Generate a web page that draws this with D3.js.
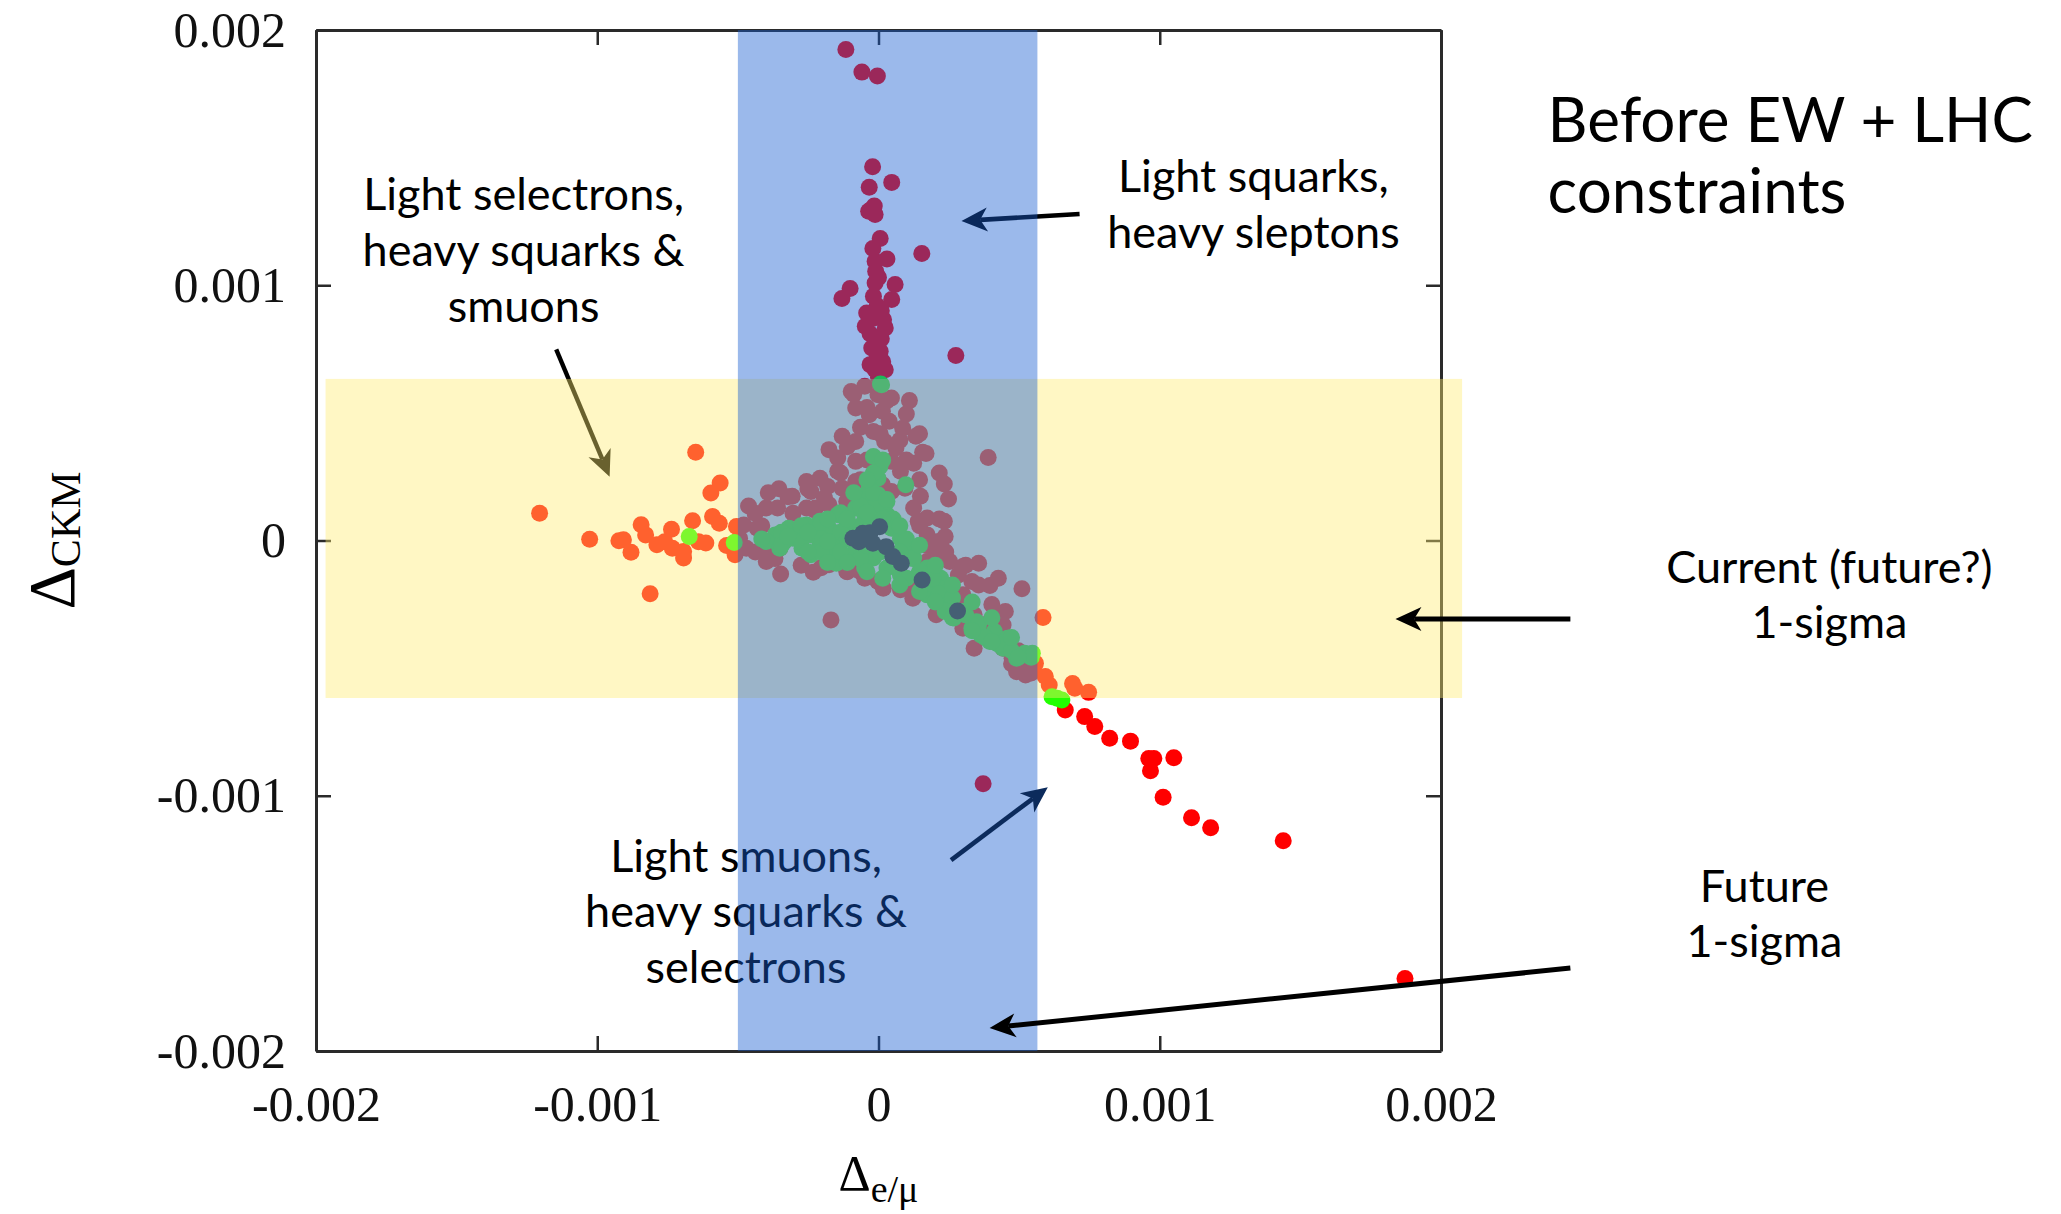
<!DOCTYPE html>
<html>
<head>
<meta charset="utf-8">
<script src="https://cdn.jsdelivr.net/npm/d3@7"></script>
<style>
  html, body { margin: 0; padding: 0; background: #fff; }
  svg { display: block; }
  .note { font-family: Lato, "Open Sans", sans-serif; fill: #000; }
  .axis-title { font-family: "Liberation Serif", "Times New Roman", serif; fill: #000; }
</style>
</head>
<body>
<svg id="chart" width="2061" height="1214"></svg>
<script>
// All scan values below are in units of 1e-3.
const UNIT = 1e-3;

const tickValues = [-2, -1, 0, 1, 2];
const xTickLabels = ["-0.002", "-0.001", "0", "0.001", "0.002"];
const yTickLabels = ["-0.002", "-0.001", "0", "0.001", "0.002"];

// 1-sigma bands
const emuBand = [-0.50, 0.565];          // Δe/μ range (full Δ_CKM height)
const ckmBand = [-0.617, 0.633];         // Δ_CKM range
const ckmBandX = [-1.966, 2.075];        // horizontal extent of the Δ_CKM band

// Scan points: [Δe/μ, Δ_CKM]
const redPoints = [
  // squark-dominated column
  [-0.116, 1.924], [-0.059, 1.835], [-0.004, 1.820],
  [-0.021, 1.464], [0.047, 1.403], [-0.033, 1.384],
  [-0.026, 1.297], [-0.012, 1.277], [-0.035, 1.290], [-0.015, 1.310],
  [0.006, 1.183], [-0.020, 1.144], [0.154, 1.124], [0.030, 1.103], [-0.012, 1.094],
  [-0.010, 1.055], [0.059, 1.003], [-0.101, 0.987], [-0.130, 0.948], [-0.012, 1.009],
  [-0.018, 0.957], [0.047, 0.944], [-0.042, 0.891], [0.018, 0.865], [-0.047, 0.839],
  [0.024, 0.833], [-0.012, 0.793], [-0.024, 0.754], [0.006, 0.741], [0.275, 0.725],
  [-0.030, 0.689], [0.024, 0.669], [-0.012, 0.669], [-0.005, 0.920], [0.010, 0.900],
  [-0.020, 0.870], [0.000, 1.030], [-0.005, 0.715], [0.010, 0.790], [-0.030, 0.810],
  [0.015, 0.700], [0.000, 0.640],
  // central cloud
  [-0.097, 0.584], [-0.049, 0.604], [-0.002, 0.571], [0.046, 0.558], [0.110, 0.548],
  [-0.081, 0.519], [-0.033, 0.493], [0.014, 0.506], [0.038, 0.467], [0.086, 0.440],
  [0.133, 0.408], [-0.129, 0.408], [-0.081, 0.388], [-0.018, 0.427], [0.022, 0.388],
  [0.062, 0.362], [0.157, 0.346], [-0.176, 0.356], [-0.145, 0.323], [-0.081, 0.310],
  [0.046, 0.310], [0.125, 0.303], [0.078, 0.271], [-0.256, 0.231], [-0.208, 0.244],
  [-0.145, 0.271], [-0.129, 0.205], [-0.081, 0.231], [0.014, 0.218], [0.046, 0.192],
  [0.094, 0.205], [0.149, 0.173], [0.234, 0.221], [0.249, 0.163], [-0.354, 0.203],
  [-0.307, 0.173], [-0.240, 0.192], [-0.192, 0.166], [-0.399, 0.127], [-0.439, 0.107],
  [-0.359, 0.127], [-0.304, 0.107], [-0.256, 0.127], [-0.224, 0.127], [-0.176, 0.140],
  [-0.113, 0.153], [0.125, 0.127], [0.141, 0.075], [0.173, 0.088], [0.234, 0.075],
  [0.237, 0.016], [0.173, 0.022], [0.213, -0.004], [-0.479, 0.061], [-0.431, 0.048],
  [-0.494, 0.009], [-0.470, -0.030], [-0.399, -0.056], [-0.399, -0.082], [-0.351, -0.030],
  [-0.348, -0.131], [-0.232, -0.124], [-0.176, -0.095], [-0.145, -0.082], [-0.113, -0.121],
  [-0.065, -0.121], [-0.049, -0.148], [-0.002, -0.161], [0.017, -0.187], [0.078, -0.193],
  [0.122, -0.226], [0.173, -0.082], [0.205, -0.056], [0.253, -0.082], [0.300, -0.102],
  [0.356, -0.089], [0.284, -0.135], [0.332, -0.161], [0.396, -0.176], [0.510, -0.189],
  [0.205, -0.291], [0.237, -0.239], [0.300, -0.213], [0.316, -0.265], [0.340, -0.291],
  [0.348, -0.344], [0.300, -0.344], [0.396, -0.318], [0.451, -0.278], [0.340, -0.422],
  [0.396, -0.370], [0.443, -0.422], [0.475, -0.461], [0.491, -0.514], [0.523, -0.527],
  [0.554, -0.487], [0.443, -0.331],
  [-0.088, 0.573], [-0.041, 0.521], [0.029, 0.547], [0.099, 0.496], [-0.064, 0.444],
  [0.006, 0.418], [0.076, 0.393], [0.146, 0.418], [-0.111, 0.367], [-0.041, 0.315],
  [0.099, 0.315], [0.169, 0.341], [-0.135, 0.264], [-0.064, 0.238], [0.146, 0.238],
  [0.216, 0.264],
  [-0.462, 0.135], [-0.392, 0.187], [-0.322, 0.171], [-0.251, 0.202], [-0.181, 0.212],
  [-0.438, -0.045], [-0.368, -0.071], [-0.275, -0.097], [-0.204, -0.107], [-0.111, -0.122],
  [-0.415, 0.058], [-0.228, 0.120],
  [0.146, 0.058], [0.216, 0.084], [0.169, -0.019], [0.239, -0.045], [0.310, -0.097],
  [0.146, -0.148], [0.216, -0.200], [0.099, -0.174], [0.356, -0.174], [0.286, -0.225],
  [0.403, -0.251], [0.333, -0.303], [0.426, -0.344], [0.450, -0.406], [0.497, -0.432],
  [0.520, -0.483], [0.473, -0.483], [0.543, -0.519], [0.379, -0.354], [0.426, -0.148],
  [0.390, 0.325], [-0.169, -0.311], [0.372, -0.953],
  // selectron branch
  [-1.205, 0.107], [-1.027, 0.005], [-0.650, 0.346], [-0.563, 0.225], [-0.596, 0.186],
  [-0.907, 0.003], [-0.923, -0.001], [-0.880, -0.046], [-0.844, 0.062], [-0.828, 0.022],
  [-0.788, -0.017], [-0.736, 0.044], [-0.733, -0.030], [-0.693, -0.043], [-0.693, -0.069],
  [-0.661, 0.077], [-0.614, -0.010], [-0.590, 0.094], [-0.566, 0.068], [-0.505, 0.055],
  [-0.812, -0.209], [-0.510, -0.056], [-0.760, -0.005], [-0.640, -0.005], [-0.540, -0.020],
  // smuon branch
  [0.585, -0.302], [0.558, -0.481], [0.593, -0.533], [0.607, -0.566], [0.690, -0.560],
  [0.698, -0.579], [0.747, -0.595], [0.664, -0.664], [0.733, -0.690], [0.769, -0.729],
  [0.822, -0.775], [0.896, -0.786], [0.961, -0.854], [0.979, -0.854], [1.050, -0.851],
  [0.967, -0.902], [1.012, -1.006], [1.113, -1.086], [1.181, -1.125], [1.439, -1.176],
  [1.872, -1.716]
];

const greenPoints = [
  [0.007, 0.613], [0.011, 0.610], [-0.018, 0.329], [0.097, 0.218], [-0.002, 0.244],
  [-0.033, 0.205], [-0.002, 0.179], [-0.049, 0.166], [-0.081, 0.127], [-0.145, 0.101],
  [-0.208, 0.075], [-0.256, 0.061], [-0.319, 0.048], [-0.367, 0.022], [-0.399, -0.004],
  [-0.335, -0.004], [-0.272, -0.030], [-0.208, -0.017], [-0.145, 0.009], [-0.081, 0.035],
  [-0.018, 0.075], [0.030, 0.101], [0.046, 0.048], [0.078, 0.009], [0.094, -0.030],
  [0.125, -0.069], [0.173, -0.108], [0.221, -0.148], [0.237, -0.187], [0.253, -0.226],
  [0.300, -0.278], [0.348, -0.318], [0.364, -0.370], [0.412, -0.357], [0.459, -0.383],
  [0.443, -0.422], [0.491, -0.461], [0.547, -0.442], [-0.240, 0.022], [-0.176, 0.048],
  [-0.113, 0.075], [-0.049, 0.101], [0.014, 0.127], [0.030, 0.153], [-0.145, -0.030],
  [-0.081, -0.043], [-0.018, -0.069], [0.030, -0.108], [0.078, -0.135], [0.141, -0.135],
  [0.189, -0.174], [-0.351, -0.030], [-0.304, 0.009], [-0.240, -0.056], [-0.176, -0.056],
  [-0.113, -0.082], [-0.049, -0.108], [0.173, -0.213], [0.237, -0.278], [0.268, -0.304],
  [0.332, -0.344], [0.396, -0.396], [-0.150, -0.089], [-0.100, -0.060], [0.005, 0.290],
  [-0.010, 0.140],
  [-0.415, 0.006], [-0.345, 0.032], [-0.345, -0.019], [-0.275, 0.058], [-0.275, -0.004],
  [-0.204, 0.068], [-0.204, 0.006], [-0.204, -0.045], [-0.135, 0.109], [-0.135, 0.032],
  [-0.135, -0.045], [-0.064, 0.135], [-0.064, 0.058], [-0.064, -0.071], [-0.018, 0.264],
  [-0.018, 0.187], [0.015, 0.315], [0.029, 0.161], [0.052, 0.084], [0.006, -0.045],
  [0.052, -0.097], [0.099, 0.006], [0.122, -0.071], [0.146, -0.122], [0.099, -0.148],
  [0.193, -0.148], [0.216, -0.210], [0.263, -0.225], [0.239, -0.277], [0.310, -0.292],
  [0.356, -0.328], [0.379, -0.380], [0.426, -0.406], [0.473, -0.432], [0.520, -0.442],
  [0.543, -0.457], [-0.088, -0.004], [-0.041, 0.032],
  [-0.322, 0.017], [-0.251, 0.032], [-0.251, -0.045], [-0.181, 0.084], [-0.181, -0.004],
  [-0.181, -0.086], [-0.111, 0.084], [-0.111, 0.006], [-0.111, -0.086], [-0.088, 0.187],
  [-0.041, 0.238], [-0.041, 0.109], [-0.041, -0.019], [-0.041, -0.122], [0.015, 0.084],
  [0.015, -0.148], [0.076, 0.058], [0.076, -0.045], [0.076, -0.174], [0.146, -0.019],
  [0.146, -0.200], [0.202, -0.097], [0.202, -0.241], [0.263, -0.174], [0.263, -0.303],
  [0.333, -0.241], [0.333, -0.354], [0.403, -0.303], [0.403, -0.396], [0.473, -0.380],
  [0.497, -0.457],
  [-0.673, 0.016], [-0.513, -0.008],
  [0.617, -0.612], [0.652, -0.625], [0.635, -0.618]
];

const darkPoints = [
  [-0.091, 0.009], [-0.056, 0.028], [-0.030, 0.030], [0.004, 0.054], [-0.020, -0.011],
  [0.027, -0.024], [0.051, -0.063], [0.081, -0.089], [-0.070, -0.005], [0.155, -0.155],
  [0.281, -0.276]
];

// Annotation text
const labelSelectrons = ["Light selectrons,", "heavy squarks &", "smuons"];
const labelSquarks = ["Light squarks,", "heavy sleptons"];
const labelSmuons = ["Light smuons,", "heavy squarks &", "selectrons"];
const labelTitle = ["Before EW + LHC", "constraints"];
const labelCurrent = ["Current (future?)", "1-sigma"];
const labelFuture = ["Future", "1-sigma"];

const svg = d3.select("#chart");
const W = 2061, H = 1214;
svg.append("rect").attr("width", W).attr("height", H).attr("fill", "#fff");

const x = d3.scaleLinear().domain([-0.002, 0.002]).range([316, 1441]);
const y = d3.scaleLinear().domain([-0.002, 0.002]).range([1051, 30]);
const px = v => x(v * UNIT);
const py = v => y(v * UNIT);

// ---- scan points ----
const pts = svg.append("g");
const R = 8.5;
function drawPoints(data, color) {
  pts.append("g").selectAll("circle").data(data).join("circle")
    .attr("cx", d => px(d[0])).attr("cy", d => py(d[1]))
    .attr("r", R).attr("fill", color);
}
drawPoints(redPoints, "#ff0000");
drawPoints(greenPoints, "#22ff00");
drawPoints(darkPoints, "#000000");

// ---- frame and ticks ----
const frameColor = "#2a2a2a";
function styleAxis(g, showLabels) {
  g.attr("font-family", "'Liberation Serif', 'Times New Roman', serif")
   .attr("font-size", 50);
  g.select(".domain").attr("stroke", frameColor).attr("stroke-width", 3);
  g.selectAll(".tick line").attr("stroke", frameColor).attr("stroke-width", 2.5);
  g.selectAll(".tick text").attr("fill", "#111");
  if (!showLabels) g.selectAll(".tick text").remove();
}
const axisG = svg.append("g");
axisG.append("g").attr("transform", `translate(0,${y.range()[0]})`)
  .call(d3.axisBottom(x).tickValues(tickValues.map(v => v * UNIT))
    .tickFormat((d, i) => xTickLabels[i]).tickSize(-15).tickSizeOuter(0).tickPadding(34))
  .call(g => styleAxis(g, true));
axisG.append("g").attr("transform", `translate(0,${y.range()[1]})`)
  .call(d3.axisTop(x).tickValues(tickValues.map(v => v * UNIT)).tickSize(-15).tickSizeOuter(0))
  .call(g => styleAxis(g, false));
axisG.append("g").attr("transform", `translate(${x.range()[0]},0)`)
  .call(d3.axisLeft(y).tickValues(tickValues.map(v => v * UNIT))
    .tickFormat((d, i) => yTickLabels[i]).tickSize(-15).tickSizeOuter(0).tickPadding(30))
  .call(g => styleAxis(g, true));
axisG.append("g").attr("transform", `translate(${x.range()[1]},0)`)
  .call(d3.axisRight(y).tickValues(tickValues.map(v => v * UNIT)).tickSize(-15).tickSizeOuter(0))
  .call(g => styleAxis(g, false));

// axis titles
const xt = svg.append("text").attr("class", "axis-title")
  .attr("x", x(0)).attr("y", 1190).attr("text-anchor", "middle");
xt.append("tspan").attr("font-size", 50).text("Δ");
xt.append("tspan").attr("font-size", 38).attr("dy", 12).text("e/μ");

const yt = svg.append("text").attr("class", "axis-title")
  .attr("transform", `translate(74,${y(0)}) rotate(-90)`).attr("text-anchor", "middle");
yt.append("tspan").attr("font-size", 66).text("Δ");
yt.append("tspan").attr("font-size", 42).attr("dy", 6).text("CKM");

// ---- helpers ----
function noteBlock(g, lines, xv, baselines, anchor, size) {
  const t = g.append("text").attr("class", "note")
    .attr("font-size", size).attr("text-anchor", anchor);
  lines.forEach((s, i) => {
    t.append("tspan").attr("x", px(xv)).attr("y", py(baselines[i])).text(s);
  });
}
function arrow(g, from, to, color, width) {
  const x0 = px(from[0]), y0 = py(from[1]), x1 = px(to[0]), y1 = py(to[1]);
  const L = Math.hypot(x1 - x0, y1 - y0);
  const ux = (x1 - x0) / L, uy = (y1 - y0) / L, nx = -uy, ny = ux;
  const hl = 26, hw = 24;
  const bx = x1 - ux * hl, by = y1 - uy * hl;
  const mx = x1 - ux * hl * 0.72, my = y1 - uy * hl * 0.72;
  g.append("line").attr("x1", x0).attr("y1", y0).attr("x2", mx).attr("y2", my)
    .attr("stroke", color).attr("stroke-width", width);
  g.append("path")
    .attr("d", `M${x1},${y1}L${bx + nx * hw / 2},${by + ny * hw / 2}L${mx},${my}L${bx - nx * hw / 2},${by - ny * hw / 2}Z`)
    .attr("fill", color);
}

// ---- annotations beneath the bands ----
const under = svg.append("g");
noteBlock(under, labelSelectrons, -1.262, [1.295, 1.075, 0.856], "middle", 45);
noteBlock(under, labelSquarks, 1.333, [1.365, 1.146], "middle", 45);
noteBlock(under, labelSmuons, -0.471, [-1.298, -1.514, -1.734], "middle", 45);
arrow(under, [0.715, 1.279], [0.295, 1.252], "#000", 4.6);
arrow(under, [-1.146, 0.749], [-0.956, 0.250], "#000", 4.4);

// ---- 1-sigma bands (translucent overlays) ----
svg.append("rect")
  .attr("x", px(ckmBandX[0])).attr("width", px(ckmBandX[1]) - px(ckmBandX[0]))
  .attr("y", py(ckmBand[1])).attr("height", py(ckmBand[0]) - py(ckmBand[1]))
  .attr("fill", "rgb(255,235,111)").attr("fill-opacity", 0.41);
svg.append("rect")
  .attr("x", px(emuBand[0])).attr("width", px(emuBand[1]) - px(emuBand[0]))
  .attr("y", y.range()[1]).attr("height", y.range()[0] - y.range()[1])
  .attr("fill", "rgb(23,93,209)").attr("fill-opacity", 0.43);

// ---- annotations above the bands ----
const over = svg.append("g");
arrow(over, [0.258, -1.252], [0.602, -0.967], "#0c2b5c", 4.6);
arrow(over, [2.460, -0.308], [1.838, -0.308], "#000", 5);
arrow(over, [2.460, -1.675], [0.395, -1.910], "#000", 5);

noteBlock(over, labelTitle, 2.379, [1.561, 1.283], "start", 62);
noteBlock(over, labelCurrent, 3.381, [-0.167, -0.382], "middle", 45);
noteBlock(over, labelFuture, 3.150, [-1.416, -1.632], "middle", 45);
</script>
</body>
</html>
